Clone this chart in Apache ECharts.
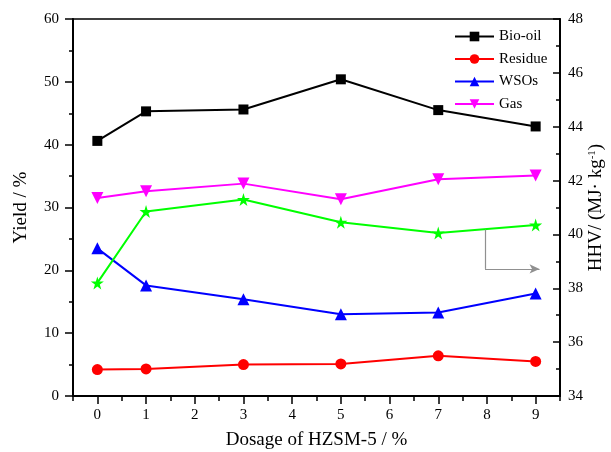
<!DOCTYPE html>
<html>
<head>
<meta charset="utf-8">
<script src="https://cdn.jsdelivr.net/npm/echarts@6/dist/echarts.min.js"></script>
<style>html,body{margin:0;padding:0;background:#fff;}#c{width:611px;height:452px;}</style>
</head>
<body>
<div id="c"></div>
<script>
// ---- data ----
const dosage = [0, 1, 3, 5, 7, 9];
const bioOil = [40.6, 45.3, 45.6, 50.4, 45.5, 42.9];
const residue = [4.2, 4.3, 5.0, 5.1, 6.4, 5.5];
const wsos = [23.5, 17.6, 15.4, 13.0, 13.3, 16.3];
const gas = [31.5, 32.6, 33.8, 31.3, 34.5, 35.1];
const hhv = [38.2, 40.85, 41.3, 40.45, 40.05, 40.35];
const xTicks = [0, 1, 2, 3, 4, 5, 6, 7, 8, 9];
const xMinorTicks = [-0.5, 0.5, 1.5, 2.5, 3.5, 4.5, 5.5, 6.5, 7.5, 8.5, 9.5];
const legendNames = ['Bio-oil', 'Residue', 'WSOs', 'Gas'];
// arrow annotation (data coords: dosage, HHV)
const arrowX = 7.96, arrowTopY = 40.18, arrowBottomY = 38.72, arrowEndX = 9.08;

const pair = arr => dosage.map((d, i) => [d, arr[i]]);
const FONT = '"Liberation Serif", "Times New Roman", serif';
const star = 'path://M50,0 L61,35 L98,35 L68,57 L79,91 L50,70 L21,91 L32,57 L2,35 L39,35 Z';

const chart = echarts.init(document.getElementById('c'), null, {renderer: 'canvas'});
const axisLine = {show: true, onZero: false, lineStyle: {color: '#000', width: 2}};
const option = {
  animation: false,
  backgroundColor: '#fff',
  grid: {left: 73, right: 51, top: 19, bottom: 56, show: true, borderColor: '#000', borderWidth: 1.5,
    containLabel: false, outerBoundsMode: 'none'},
  legend: {
    data: legendNames,
    orient: 'vertical',
    left: 449, top: 24,
    itemWidth: 39, itemHeight: 12, itemGap: 7.5,
    textStyle: {fontFamily: FONT, fontSize: 15, color: '#000'}
  },
  xAxis: [{
    type: 'value', min: -0.5, max: 9.5, position: 'bottom',
    name: 'Dosage of HZSM-5 / %', nameLocation: 'middle', nameGap: 35,
    nameTextStyle: {fontFamily: FONT, fontSize: 19, color: '#000'},
    axisLine: axisLine,
    axisTick: {show: true, length: 8, inside: false, customValues: xTicks, lineStyle: {color: '#000', width: 1.5}},
    axisLabel: {customValues: xTicks, margin: 12, fontFamily: FONT, fontSize: 15, color: '#000'},
    splitLine: {show: false}
  }, {
    type: 'value', min: -0.5, max: 9.5, position: 'bottom',
    axisLine: {show: false, onZero: false},
    axisTick: {show: true, length: 5, inside: false, customValues: xMinorTicks, lineStyle: {color: '#000', width: 1.5}},
    axisLabel: {show: false},
    splitLine: {show: false}
  }],
  yAxis: [{
    type: 'value', min: 0, max: 60, interval: 10, position: 'left',
    name: 'Yield / %', nameLocation: 'middle', nameGap: 42, nameRotate: 90,
    nameTextStyle: {fontFamily: FONT, fontSize: 19, color: '#000'},
    axisLine: axisLine,
    axisTick: {show: true, length: 8, inside: false, lineStyle: {color: '#000', width: 1.5}},
    minorTick: {show: true, splitNumber: 2, length: 4, lineStyle: {color: '#000', width: 1.5}},
    axisLabel: {margin: 14, fontFamily: FONT, fontSize: 15, color: '#000'},
    splitLine: {show: false}, minorSplitLine: {show: false}
  }, {
    type: 'value', min: 34, max: 48, interval: 2, position: 'right',
    name: 'HHV/ (MJ· kg{sup|-1})', nameLocation: 'middle', nameGap: 27, nameRotate: 90,
    nameMoveOverlap: false,
    nameTextStyle: {fontFamily: FONT, fontSize: 19, color: '#000',
      rich: {sup: {fontFamily: FONT, fontSize: 11, color: '#000', verticalAlign: 'top', padding: [0, 0, 8, 0]}}},
    axisLine: axisLine,
    axisTick: {show: true, length: 7, inside: true, lineStyle: {color: '#000', width: 1.5}},
    minorTick: {show: true, splitNumber: 2, length: 4, lineStyle: {color: '#000', width: 1.5}},
    axisLabel: {margin: 8, fontFamily: FONT, fontSize: 15, color: '#000'},
    splitLine: {show: false}, minorSplitLine: {show: false}
  }],
  series: [
    {name: 'Bio-oil', type: 'line', data: pair(bioOil), symbol: 'rect', symbolSize: 10,
      lineStyle: {color: '#000', width: 2}, itemStyle: {color: '#000'}},
    {name: 'Residue', type: 'line', data: pair(residue), symbol: 'circle', symbolSize: 11,
      lineStyle: {color: '#ff0000', width: 2}, itemStyle: {color: '#ff0000'}},
    {name: 'WSOs', type: 'line', data: pair(wsos), symbol: 'triangle', symbolSize: 12,
      lineStyle: {color: '#0000ff', width: 2}, itemStyle: {color: '#0000ff'}},
    {name: 'Gas', type: 'line', data: pair(gas), symbol: 'triangle', symbolRotate: 180, symbolSize: 12,
      lineStyle: {color: '#ff00ff', width: 2}, itemStyle: {color: '#ff00ff'}},
    {name: 'HHV', type: 'line', yAxisIndex: 1, data: pair(hhv), symbol: star, symbolSize: 13,
      lineStyle: {color: '#00ff00', width: 2}, itemStyle: {color: '#00ff00'},
      markLine: {
        silent: true, animation: false,
        label: {show: false},
        lineStyle: {color: '#909090', width: 1.2, type: 'solid'},
        data: [
          [{coord: [arrowX, arrowTopY], symbol: 'none'}, {coord: [arrowX, arrowBottomY], symbol: 'none'}],
          [{coord: [arrowX, arrowBottomY], symbol: 'none'}, {coord: [arrowEndX, arrowBottomY], symbol: 'arrow', symbolSize: [7, 10]}]
        ]
      }}
  ]
};
chart.setOption(option);
</script>
</body>
</html>
